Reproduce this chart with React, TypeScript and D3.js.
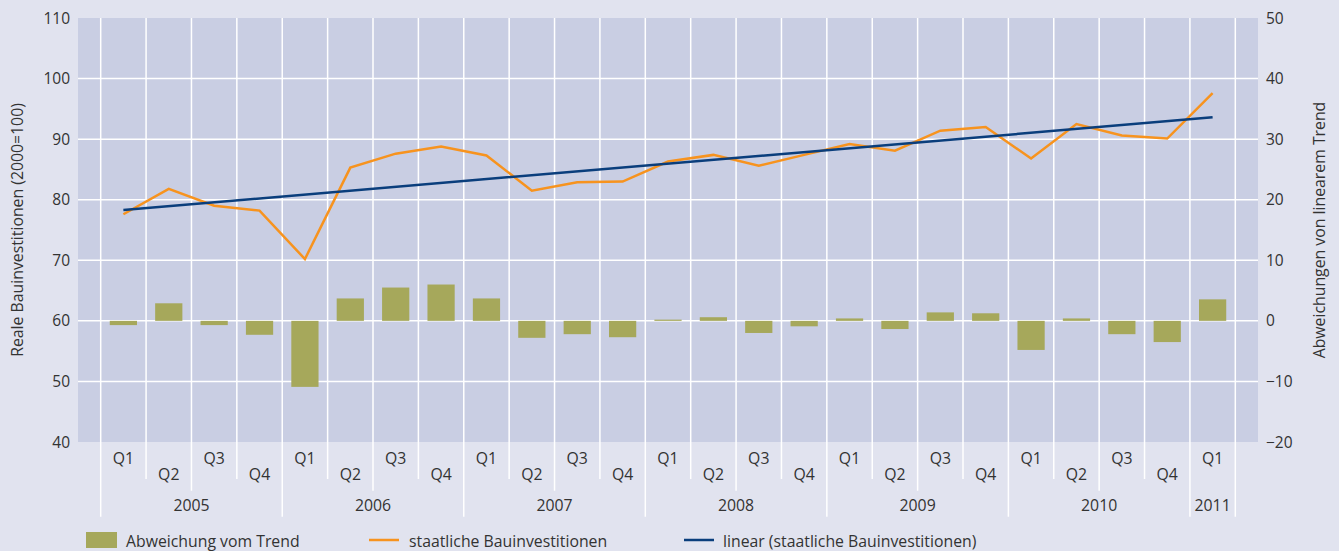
import React from "react";
import * as d3 from "d3";

const years = ["2005", "2006", "2007", "2008", "2009", "2010", "2011"];
const quarters = ["Q1", "Q2", "Q3", "Q4"];
const categories = [
  "2005Q1", "2005Q2", "2005Q3", "2005Q4",
  "2006Q1", "2006Q2", "2006Q3", "2006Q4",
  "2007Q1", "2007Q2", "2007Q3", "2007Q4",
  "2008Q1", "2008Q2", "2008Q3", "2008Q4",
  "2009Q1", "2009Q2", "2009Q3", "2009Q4",
  "2010Q1", "2010Q2", "2010Q3", "2010Q4",
  "2011Q1",
];
const investments = [
  77.6, 81.8, 79.0, 78.2,
  70.2, 85.3, 87.6, 88.8,
  87.3, 81.5, 82.9, 83.0,
  86.3, 87.4, 85.6, 87.4,
  89.2, 88.1, 91.4, 92.0,
  86.8, 92.5, 90.6, 90.1,
  97.6,
];
const deviations = [
  -0.7, 2.9, -0.7, -2.3,
  -10.9, 3.7, 5.5, 6.0,
  3.7, -2.8, -2.2, -2.7,
  0.2, 0.6, -2.0, -0.9,
  0.4, -1.35, 1.4, 1.25,
  -4.8, 0.4, -2.2, -3.5,
  3.55,
];
const trendEnds = [78.3, 93.6];
const leftTicks = [40, 50, 60, 70, 80, 90, 100, 110];
const rightTicks = [-20, -10, 0, 10, 20, 30, 40, 50];
const legendLabels = ["Abweichung vom Trend", "staatliche Bauinvestitionen", "linear (staatliche Bauinvestitionen)"];

const W = 1339, H = 551;
const L = 78, R = 1258, T = 18, B = 442;
const BG = "#e1e3ef", PLOT = "#c9cee3", OLIVE = "#a6a85b", ORANGE = "#f7931e", NAVY = "#0a3e7c", TXT = "#333333";
const FONT = "'Open Sans', sans-serif";
const FS = 15.8;

export default function App() {
  const x = d3.scaleBand<string>().domain(categories).range([L, R]).paddingOuter(0.5).paddingInner(0);
  const step = x.step();
  const barW = step * 0.6;
  const cx = (c: string) => (x(c) as number) + step / 2;
  const yL = d3.scaleLinear().domain([40, 110]).range([B, T]);
  const yR = d3.scaleLinear().domain([-20, 50]).range([B, T]);

  const line = d3.line<number>().x((_, i) => cx(categories[i])).y((d) => yL(d));
  const trendLine = d3.line<[string, number]>().x((d) => cx(d[0])).y((d) => yL(d[1]));
  const trendPts: [string, number][] = [[categories[0], trendEnds[0]], [categories[categories.length - 1], trendEnds[1]]];

  const boundaries = d3.range(categories.length + 1).map((k) => {
    const bx = (x(categories[0]) as number) + k * step;
    let end = 479;
    if (k % 4 === 0 || k === categories.length) end = 516.7;
    else if (k % 4 === 2) end = 490.7;
    return { bx, end };
  });

  const yearCenters = years.map((yr) => {
    const cats = categories.filter((c) => c.startsWith(yr));
    const x0 = x(cats[0]) as number;
    const x1 = (x(cats[cats.length - 1]) as number) + step;
    return { yr, c: (x0 + x1) / 2 };
  });

  const fmt = (v: number) => (v < 0 ? "\u2212" + Math.abs(v) : String(v));

  return (
    <svg width={W} height={H} style={{ position: "absolute", left: 0, top: 0 }} fontFamily={FONT}>
      <rect x={0} y={0} width={W} height={H} fill={BG} />
      <rect x={L} y={T} width={R - L} height={B - T} fill={PLOT} />
      {leftTicks.filter((t) => t > 40 && t < 110).map((t) => (
        <line key={"h" + t} x1={L} x2={R} y1={yL(t)} y2={yL(t)} stroke="#fff" strokeWidth={1.5} />
      ))}
      {boundaries.map((b, k) => (
        <line key={"v" + k} x1={b.bx} x2={b.bx} y1={T} y2={b.end} stroke="#fff" strokeWidth={1.5} />
      ))}
      {deviations.map((d, i) => (
        <rect key={"b" + i} x={cx(categories[i]) - barW / 2} width={barW}
          y={Math.min(yR(d), yR(0))} height={Math.abs(yR(d) - yR(0))} fill={OLIVE} />
      ))}
      <path d={line(investments) || ""} fill="none" stroke={ORANGE} strokeWidth={2.5} strokeLinejoin="miter" />
      <path d={trendLine(trendPts) || ""} fill="none" stroke={NAVY} strokeWidth={2.5} />
      {leftTicks.map((t) => (
        <text key={"lt" + t} x={70} y={yL(t)} dy="0.36em" textAnchor="end" fontSize={15.5} fill={TXT}>{t}</text>
      ))}
      {rightTicks.map((t) => (
        <text key={"rt" + t} x={1266} y={yR(t)} dy="0.36em" textAnchor="start" fontSize={15.5} fill={TXT}>{fmt(t)}</text>
      ))}
      <text transform={`translate(23,${(T + B) / 2}) rotate(-90)`} textAnchor="middle" fontSize={FS} fill={TXT}>
        Reale Bauinvestitionen (2000=100)
      </text>
      <text transform={`translate(1325,${(T + B) / 2}) rotate(-90)`} textAnchor="middle" fontSize={FS} fill={TXT}>
        Abweichungen von linearem Trend
      </text>
      {categories.map((c, i) => {
        const q = quarters[i % 4];
        const low = i % 2 === 1;
        return (
          <text key={"q" + i} x={cx(c)} y={low ? 479.5 : 464} textAnchor="middle" fontSize={FS} fill={TXT}>{q}</text>
        );
      })}
      {yearCenters.map((y) => (
        <text key={"y" + y.yr} x={y.c} y={510.5} textAnchor="middle" fontSize={FS} fill={TXT}>{y.yr}</text>
      ))}
      <rect x={86} y={532} width={31} height={16} fill={OLIVE} />
      <text x={126} y={546.5} fontSize={FS} fill={TXT}>{legendLabels[0]}</text>
      <line x1={369} x2={399} y1={540} y2={540} stroke={ORANGE} strokeWidth={2.5} />
      <text x={409} y={546.5} fontSize={FS} fill={TXT}>{legendLabels[1]}</text>
      <line x1={684} x2={714} y1={540} y2={540} stroke={NAVY} strokeWidth={2.5} />
      <text x={723} y={546.5} fontSize={FS} fill={TXT}>{legendLabels[2]}</text>
    </svg>
  );
}
